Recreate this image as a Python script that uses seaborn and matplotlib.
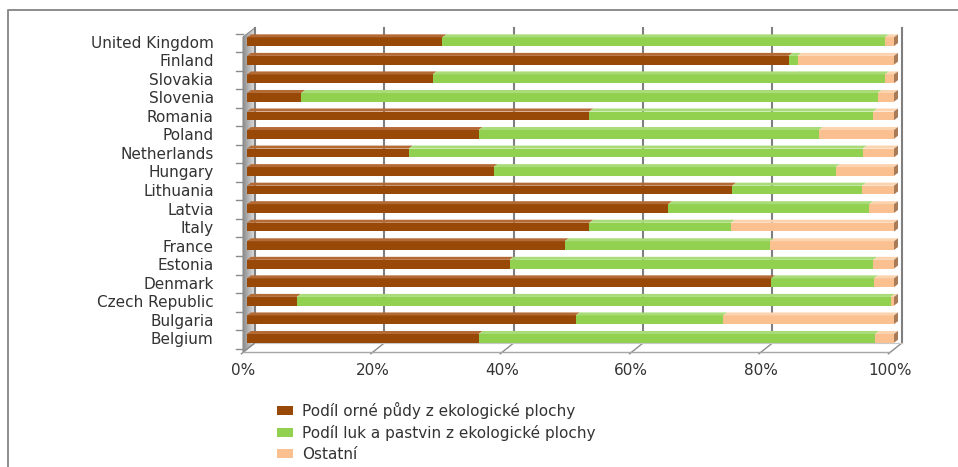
import numpy as np
import pandas as pd
import matplotlib
matplotlib.use("Agg")
import matplotlib.pyplot as plt
from matplotlib.patches import Polygon, Patch
from matplotlib.lines import Line2D
import seaborn as sns

# Share of organic farmland by land use, per country (percent)
countries = ["United Kingdom", "Finland", "Slovakia", "Slovenia", "Romania",
             "Poland", "Netherlands", "Hungary", "Lithuania", "Latvia", "Italy",
             "France", "Estonia", "Denmark", "Czech Republic", "Bulgaria", "Belgium"]
arable = [30.2, 83.7, 28.7, 8.4, 52.9, 35.8, 25.0, 38.1, 75.0, 65.1, 52.9,
          49.1, 40.6, 81.0, 7.7, 50.8, 35.8]
grassland = [68.4, 1.4, 69.9, 89.1, 43.9, 52.6, 70.2, 52.9, 20.1, 31.1, 21.9,
             31.7, 56.2, 15.9, 91.8, 22.8, 61.3]
other = [round(100 - a - g, 1) for a, g in zip(arable, grassland)]

series_labels = ["Podíl orné půdy z ekologické plochy",
                 "Podíl luk a pastvin z ekologické plochy",
                 "Ostatní"]
series_colors = ["#984807", "#92D050", "#FAC090"]
top_colors = ["#B36A35", "#A9DC78", "#FCD3AF"]
cap_color = "#A97B57"
tick_values = [0, 20, 40, 60, 80, 100]
tick_labels = ["0%", "20%", "40%", "60%", "80%", "100%"]

df = pd.DataFrame({"country": countries, "arable": arable,
                   "grassland": grassland, "other": other})
df["c1"] = df["arable"]
df["c2"] = df["arable"] + df["grassland"]
df["c3"] = df["c2"] + df["other"]

W, H = 958, 467
fig = plt.figure(figsize=(W / 100, H / 100), dpi=100)
text_color = "#333333"
plt.rcParams["font.family"] = ["DejaVu Sans"]

# pixel scale of the plotting frame
PX_X, X0 = 6.47, 247.0   # px per percent, px of 0 %
PX_Y, Y0 = 18.54, 41.7   # px per category, px of first category
xlim = (-2.5, 103.5)
ylim = (17.0, -1.0)
left_px = X0 + xlim[0] * PX_X
right_px = X0 + xlim[1] * PX_X
top_px = Y0 + ylim[1] * PX_Y
bot_px = Y0 + ylim[0] * PX_Y
ax = fig.add_axes([left_px / W, 1 - bot_px / H,
                   (right_px - left_px) / W, (bot_px - top_px) / H])

# depth offsets of the pseudo-3D box (in data units)
BX, BY = 7.7 / PX_X, -5.8 / PX_Y     # back wall
FX, FY = -4.0 / PX_X, 3.0 / PX_Y     # front edge
DX, DY = 4.0 / PX_X, -3.0 / PX_Y     # bar depth
FLOOR, TOP = 16.57, -0.42
grid_c = "#7F7F7F"

# left wall with a grey gradient
wall = Polygon([(FX, FLOOR + FY), (FX, TOP + FY), (BX, TOP + BY), (BX, FLOOR + BY)],
               closed=True, facecolor="none", edgecolor="#8C8C8C", lw=0.8, zorder=1)
ax.add_patch(wall)
grad = np.linspace(0.55, 0.88, 64).reshape(1, -1)
im = ax.imshow(grad, cmap="gray", vmin=0, vmax=1, aspect="auto",
               extent=(FX, BX, FLOOR + FY, TOP + BY), zorder=0.9)
im.set_clip_path(wall)

# back-wall gridlines and floor diagonals
for v in tick_values:
    ax.plot([v + BX, v + BX], [FLOOR + BY, TOP + BY], color=grid_c, lw=1.5, zorder=1)
    ax.plot([v + BX, v + FX - 0.25], [FLOOR + BY, FLOOR + FY + 0.1],
            color="#8C8C8C", lw=1.0, zorder=1)
ax.plot([FX, 100 + FX], [FLOOR + FY, FLOOR + FY], color="#A6A6A6", lw=1.0, zorder=1)
ax.plot([BX, 100 + BX], [FLOOR + BY, FLOOR + BY], color="#C8C8C8", lw=0.8, zorder=1)

# category ticks on the wall front
for k in range(len(countries) + 1):
    y = k - 0.44
    ax.plot([-1.7, FX], [y, y], color="#8C8C8C", lw=1.0, zorder=1)

# stacked bars: total first, then the partial sums on top
for col, color in zip(["c3", "c2", "c1"], series_colors[::-1]):
    sns.barplot(data=df, x=col, y="country", orient="h", color=color,
                saturation=1, width=0.47, linewidth=0, ax=ax, zorder=3)

# pseudo-3D top faces and right end caps
starts = [np.zeros(len(df)), df["c1"].values, df["c2"].values]
ends = [df["c1"].values, df["c2"].values, df["c3"].values]
half = 0.47 / 2
for s in range(3):
    for i in range(len(df)):
        x0, x1 = starts[s][i], ends[s][i]
        if x1 - x0 <= 0:
            continue
        yt = i - half
        ax.add_patch(Polygon([(x0, yt), (x1, yt), (x1 + DX, yt + DY), (x0 + DX, yt + DY)],
                             closed=True, facecolor=top_colors[s], lw=0, zorder=3.5))
for i in range(len(df)):
    x1 = df["c3"].values[i]
    yt, yb = i - half, i + half
    ax.add_patch(Polygon([(x1, yb), (x1, yt), (x1 + DX, yt + DY), (x1 + DX, yb + DY)],
                         closed=True, facecolor=cap_color, lw=0, zorder=3.6))

ax.set_xlim(*xlim)
ax.set_ylim(*ylim)
for sp in ax.spines.values():
    sp.set_visible(False)
ax.set_xlabel("")
ax.set_ylabel("")
ax.set_yticks(range(len(countries)))
ax.set_yticklabels(countries)
ax.set_xticks([v + FX for v in tick_values])
ax.set_xticklabels(tick_labels)
ax.tick_params(axis="y", length=0, pad=12.3, labelsize=11, labelcolor=text_color)
ax.tick_params(axis="x", length=0, pad=4.5, labelsize=11, labelcolor=text_color)
ax.grid(False)
ax.set_facecolor("none")

# legend below the plot
handles = [Patch(facecolor=c, edgecolor="none") for c in series_colors]
fig.legend(handles, series_labels, loc="center left",
           bbox_to_anchor=(277 / W, 1 - 431.7 / H), frameon=False,
           fontsize=11, labelcolor=text_color, handlelength=1.05, handleheight=0.5,
           handletextpad=0.6, labelspacing=0.4, borderpad=0, borderaxespad=0)

# outer chart border (left and top edges)
fig.add_artist(Line2D([8 / W, 8 / W, 1], [0, 1 - 10 / H, 1 - 10 / H],
                      transform=fig.transFigure, color="#8C8C8C", lw=1.4))

fig.savefig("out.png", dpi=100)
